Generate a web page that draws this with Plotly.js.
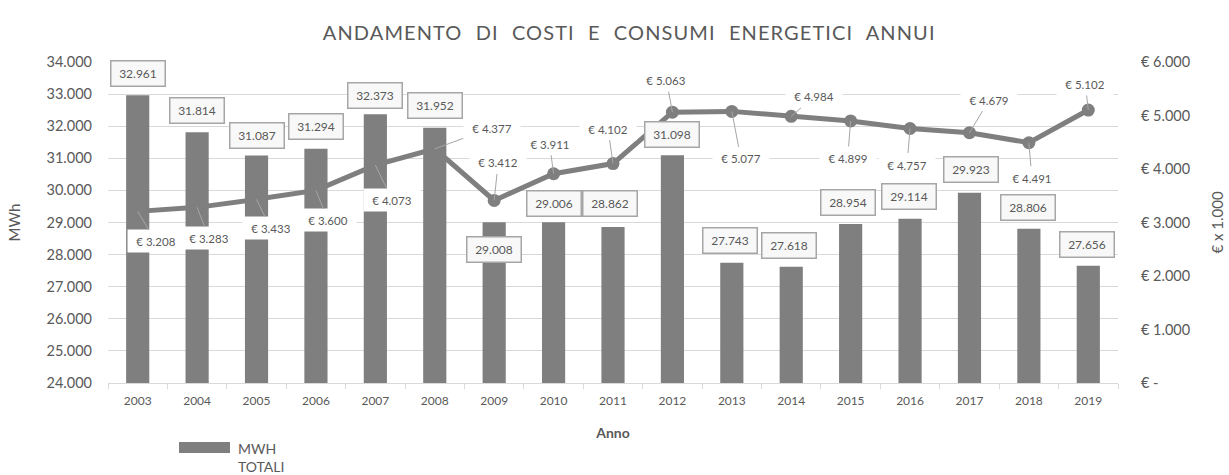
<!DOCTYPE html>
<html>
<head>
<meta charset="utf-8">
<script src="https://cdn.plot.ly/plotly-3.0.1.min.js"></script>
<style>
html,body{margin:0;padding:0;background:#fff;}
#chart{width:1229px;height:475px;}
.gtitle{letter-spacing:1.1px;word-spacing:7px;}
</style>
</head>
<body>
<div id="chart"></div>
<script>
// ---- data ----
var years = ['2003','2004','2005','2006','2007','2008','2009','2010','2011','2012','2013','2014','2015','2016','2017','2018','2019'];
var mwhTotali = [32961,31814,31087,31294,32373,31952,29008,29006,28862,31098,27743,27618,28954,29114,29923,28806,27656];
var costiK = [3208,3283,3433,3600,4073,4377,3412,3911,4102,5063,5077,4984,4899,4757,4679,4491,5102];
var leftTicks = [24000,25000,26000,27000,28000,29000,30000,31000,32000,33000,34000];
var rightTicks = [0,1000,2000,3000,4000,5000,6000];
var rightTickText = ['€ -','€ 1.000','€ 2.000','€ 3.000','€ 4.000','€ 5.000','€ 6.000'];

// ---- label placement (pixel offsets, style only) ----
var mwhShiftY = [22,22,20,22,19,22,-27,19,23,21,22,21,21,22,23,21,21];
var mwhShiftX = [0,0,0,0,0,0,0,0,-3,0,-2,-2,-3,-1,2,-1,-1];
var costAx = [18,12,14,12,17,57,4,-4,-5,-6,9,23,-3,-3,20,3,-3];
var costAy = [30,31,29,30,35,-21,-38,-30,-35,-32,47,-20,37,36,-33,35,-26];

function fmt(v){ return String(v).replace(/\B(?=(\d{3})+(?!\d))/g,'.'); }

var grey = '#7f7f7f';
var txt = '#595959';
var FONT = 'Lato, "Open Sans", sans-serif';

var traces = [
  {type:'bar', x:years, y:mwhTotali, name:'MWH TOTALI', marker:{color:grey}, yaxis:'y', showlegend:false},
  {type:'scatter', mode:'lines+markers', x:years, y:costiK, name:'COSTI', yaxis:'y2',
   line:{color:grey, width:5}, marker:{color:grey, size:13}, showlegend:false}
];

var ann = [];
// cost labels first (white boxes) so the MWh boxes sit on top
for (var j=0;j<years.length;j++){
  ann.push({x:j, y:costiK[j], xref:'x', yref:'y2', text:'€ '+fmt(costiK[j]), showarrow:true,
    arrowhead:0, arrowwidth:1, arrowcolor:'#a6a6a6', standoff:0, ax:costAx[j], ay:costAy[j],
    width:52, height:18, borderpad:2,
    font:{family:FONT, size:11.5, color:txt}, bgcolor:'#ffffff'});
}
// category axis: annotation x is the category's serial number
for (var i=0;i<years.length;i++){
  ann.push({x:i, y:mwhTotali[i], xref:'x', yref:'y', text:fmt(mwhTotali[i]), showarrow:false,
    xshift:mwhShiftX[i], yshift:mwhShiftY[i], font:{family:FONT, size:12, color:txt},
    width:50, height:21, borderpad:1.5,
    bgcolor:'#f8f8f8', bordercolor:'#a6a6a6', borderwidth:1.5});
}
// legend (manual, wide swatch like the original)
ann.push({xref:'paper', yref:'paper', x:0.1267, y:-0.232, xanchor:'left', yanchor:'middle', align:'left',
  text:'MWH<br>TOTALI', showarrow:false, font:{family:FONT, size:14, color:txt}});

var layout = {
  width:1229, height:475,
  margin:{l:108, r:111, t:62, b:92},
  paper_bgcolor:'#fff', plot_bgcolor:'#fff',
  separators:',.',
  font:{family:FONT, color:txt},
  title:{text:'ANDAMENTO DI COSTI E CONSUMI ENERGETICI ANNUI', x:0.512, xref:'container', xanchor:'center',
         y:0.93, yref:'container', yanchor:'middle', font:{family:FONT, size:20, color:txt}},
  bargap:0.61,
  xaxis:{type:'category', range:[-0.5,16.5], showgrid:false, showline:true, linecolor:'#d9d9d9', linewidth:1,
         ticks:'outside', tickson:'boundaries', ticklen:5, tickcolor:'#d9d9d9', tickangle:0,
         ticklabelstandoff:7,
         tickfont:{family:FONT, size:12, color:txt},
         title:{text:'<b>Anno</b>', font:{family:FONT, size:14, color:txt}, standoff:20}},
  yaxis:{range:[24000,34000], tickvals:leftTicks, tickformat:',d', showgrid:true, gridcolor:'#d9d9d9', gridwidth:1,
         zeroline:false, showline:false, ticks:'', ticklabelstandoff:15,
         tickfont:{family:FONT, size:14.5, color:txt},
         title:{text:'MWh', font:{family:FONT, size:15, color:txt}, standoff:22}},
  yaxis2:{range:[0,6000], overlaying:'y', side:'right', tickvals:rightTicks, ticktext:rightTickText,
         showgrid:false, zeroline:false, showline:false, ticks:'', ticklabelstandoff:22,
         tickfont:{family:FONT, size:14.5, color:txt},
         title:{text:'€ x 1.000', font:{family:FONT, size:15, color:txt}, standoff:23}},
  shapes:[{type:'rect', xref:'paper', yref:'paper', x0:0.0703, x1:0.1208, y0:-0.218, y1:-0.184,
           fillcolor:grey, line:{width:0}}],
  annotations:ann
};

Plotly.newPlot('chart', traces, layout, {displayModeBar:false, staticPlot:true});
</script>
</body>
</html>
